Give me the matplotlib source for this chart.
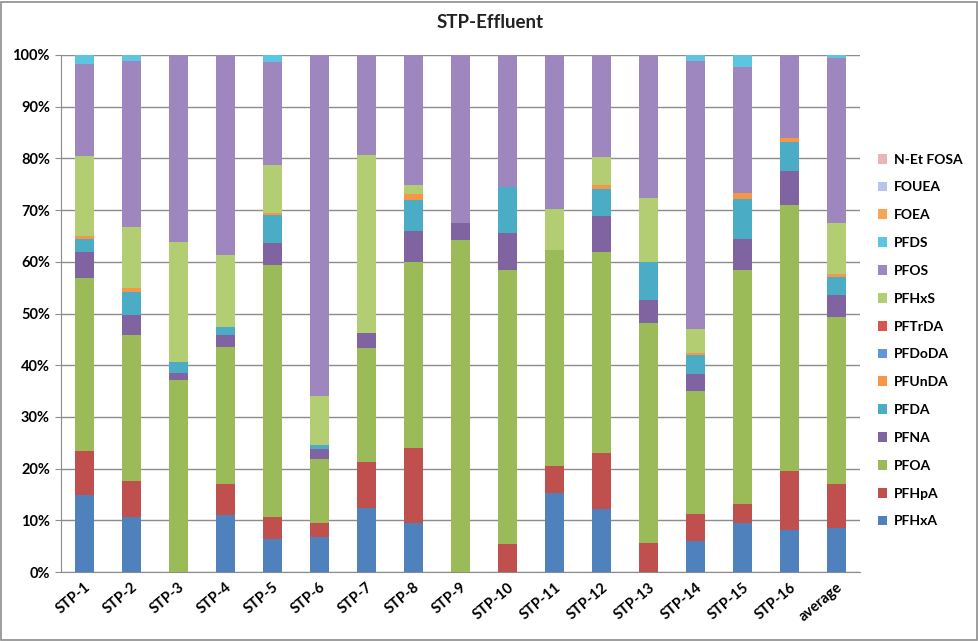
import matplotlib
matplotlib.use("Agg")
import matplotlib.pyplot as plt
import numpy as np
from matplotlib.patches import Rectangle, Patch
from matplotlib.ticker import FuncFormatter

categories = ["STP-1", "STP-2", "STP-3", "STP-4", "STP-5", "STP-6", "STP-7", "STP-8",
              "STP-9", "STP-10", "STP-11", "STP-12", "STP-13", "STP-14", "STP-15", "STP-16", "average"]

PFHxA  = [14.8, 10.6, 0.0, 11.0, 6.4, 6.8, 12.3, 9.4, 0.0, 0.0, 15.2, 12.1, 0.0, 6.0, 9.5, 8.1, 8.6]
PFHpA  = [8.7, 7.0, 0.0, 6.0, 4.2, 2.7, 8.9, 14.6, 0.0, 5.4, 5.3, 10.9, 5.7, 5.2, 3.7, 11.4, 8.4]
PFOA   = [33.3, 28.2, 37.1, 26.6, 48.7, 12.3, 22.1, 35.9, 64.2, 53.1, 41.7, 38.9, 42.4, 23.9, 45.3, 51.4, 32.4]
PFNA   = [5.0, 3.9, 1.3, 2.2, 4.4, 2.0, 3.0, 6.1, 3.4, 7.1, 0.0, 7.0, 4.5, 3.2, 5.9, 6.7, 4.2]
PFDA   = [2.6, 4.5, 2.3, 1.6, 5.4, 0.8, 0.0, 6.0, 0.0, 8.9, 0.0, 5.2, 7.3, 3.7, 7.7, 5.6, 3.4]
PFUnDA = [0.6, 0.7, 0.0, 0.0, 0.4, 0.0, 0.0, 1.1, 0.0, 0.0, 0.0, 0.8, 0.0, 0.4, 1.3, 0.7, 0.6]
PFDoDA = [0.0] * 17
PFTrDA = [0.0] * 17
PFHxS  = [15.5, 11.8, 23.2, 14.0, 9.2, 9.4, 34.4, 1.8, 0.0, 0.0, 8.1, 5.3, 12.5, 4.6, 0.0, 0.0, 10.0]
PFOS   = [17.8, 32.2, 36.1, 38.6, 20.0, 66.0, 19.3, 25.1, 32.4, 25.5, 29.7, 19.8, 27.6, 51.9, 24.2, 16.1, 31.9]
PFDS   = [1.7, 1.1, 0.0, 0.0, 1.3, 0.0, 0.0, 0.0, 0.0, 0.0, 0.0, 0.0, 0.0, 1.1, 2.4, 0.0, 0.5]
FOEA   = [0.0] * 17
FOUEA  = [0.0] * 17
NEtFOSA = [0.0] * 17

series_names = ["PFHxA", "PFHpA", "PFOA", "PFNA", "PFDA", "PFUnDA", "PFDoDA", "PFTrDA",
                "PFHxS", "PFOS", "PFDS", "FOEA", "FOUEA", "N-Et FOSA"]
series_vals = [PFHxA, PFHpA, PFOA, PFNA, PFDA, PFUnDA, PFDoDA, PFTrDA,
               PFHxS, PFOS, PFDS, FOEA, FOUEA, NEtFOSA]
colors = ["#4F81BD", "#C0504D", "#9BBB59", "#8064A2", "#4BACC6", "#F79646", "#6495D8",
          "#D9534F", "#B3CE72", "#9D87BE", "#5CC5DF", "#F9A456", "#B8C4E8", "#E8B6B6"]

plt.rcParams['font.family'] = ['Lato', 'DejaVu Sans']

fig = plt.figure(figsize=(9.79, 6.41), dpi=100)
ax = fig.add_axes([61 / 979, 1 - 572 / 641, (860 - 61) / 979, (572 - 55) / 641])

x = np.arange(len(categories))
bottom = np.zeros(len(categories))
handles = []
for name, vals, col in zip(series_names, series_vals, colors):
    v = np.array(vals, dtype=float)
    ax.bar(x, v, width=0.4, bottom=bottom, color=col, linewidth=0, zorder=3)
    bottom += v
    handles.append(Patch(facecolor=col, edgecolor='none', label=name))

ax.set_xlim(-0.5, len(categories) - 0.5)
ax.set_ylim(0, 100)
ax.set_yticks(np.arange(0, 101, 10))
ax.yaxis.set_major_formatter(FuncFormatter(lambda v, p: f"{int(v)}%"))
ax.grid(axis='y', color='#8C8C8C', linewidth=1.0, zorder=0)
for s in ['top', 'right']:
    ax.spines[s].set_visible(False)
for s in ['left', 'bottom']:
    ax.spines[s].set_color('#8C8C8C')
ax.tick_params(axis='y', length=4, color='#8C8C8C', labelsize=10.5, pad=4)
ax.tick_params(axis='x', length=0, labelsize=10.5, pad=6)
for lab in ax.get_yticklabels():
    lab.set_fontweight('bold')
ax.set_xticks(x)
ax.set_xticklabels(categories, rotation=40, ha='right', rotation_mode='anchor', fontweight='bold')

fig.text(490 / 979, 1 - 23 / 641, "STP-Effluent", ha='center', va='center',
         fontsize=13.5, fontweight='bold', color='#222222')

leg = fig.legend(handles=handles[::-1], loc='upper left', bbox_to_anchor=(872 / 979, 1 - 148 / 641),
                 frameon=False, prop={'weight': 'bold', 'size': 10},
                 handlelength=0.7, handleheight=0.7, handletextpad=0.5, labelspacing=1.14,
                 borderaxespad=0)

fig.add_artist(Rectangle((0.001, 0.002), 0.997, 0.995, transform=fig.transFigure,
                         fill=False, edgecolor='#8C8C8C', linewidth=1.2))

fig.savefig("out.png", dpi=100, facecolor='white')
